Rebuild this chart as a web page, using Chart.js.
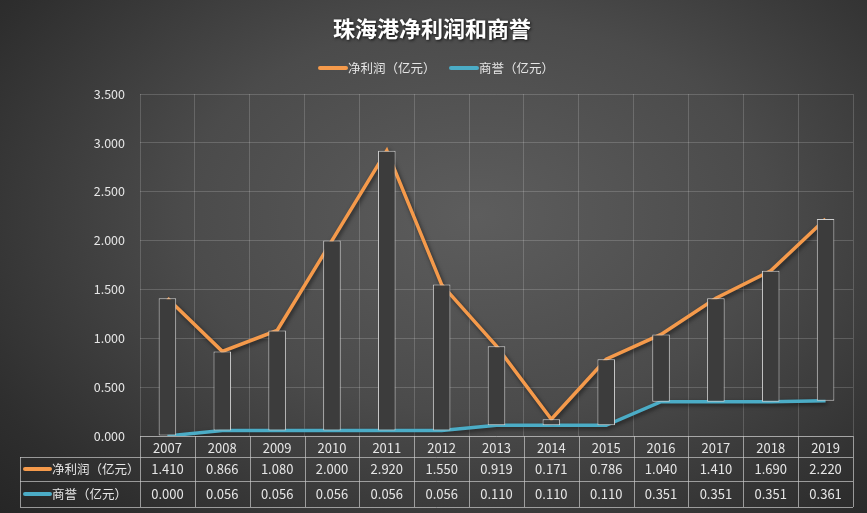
<!DOCTYPE html>
<html>
<head>
<meta charset="utf-8">
<script src="https://cdn.jsdelivr.net/npm/chart.js@4"></script>
<style>
  html, body { margin: 0; padding: 0; }
  body {
    width: 867px; height: 513px; overflow: hidden;
    background: radial-gradient(ellipse 75% 85% at 55% 42%, #5d5d5d 0%, #4b4b4b 45%, #2e2e2e 85%, #262626 100%);
  }
  canvas { display: block; }
</style>
</head>
<body>
<canvas id="myChart" width="867" height="513"></canvas>
<script>
// 数据
const anios = ['2007','2008','2009','2010','2011','2012','2013','2014','2015','2016','2017','2018','2019'];
const utilidad = [1.410, 0.866, 1.080, 2.000, 2.920, 1.550, 0.919, 0.171, 0.786, 1.040, 1.410, 1.690, 2.220];
const fondoComercio = [0.000, 0.056, 0.056, 0.056, 0.056, 0.056, 0.110, 0.110, 0.110, 0.351, 0.351, 0.351, 0.361];
const titulo = '珠海港净利润和商誉';
const nombres = ['净利润（亿元）', '商誉（亿元）'];
const colores = ['#f59a4b', '#4bacc6'];

const fuente = '"Noto Sans CJK SC", "Microsoft YaHei", sans-serif';

// barras flotantes entre las dos series
let barras = [];
for (var i = 0; i < anios.length; i++) {
    barras.push([Math.min(utilidad[i], fondoComercio[i]), Math.max(utilidad[i], fondoComercio[i])]);
}

// sombra de las lineas
const sombraPlugin = {
    id: 'sombra',
    beforeDatasetDraw(chart, args) {
        if (chart.data.datasets[args.index].type !== 'line') return;
        const ctx = chart.ctx;
        ctx.save();
        ctx.shadowColor = 'rgba(0,0,0,0.55)';
        ctx.shadowBlur = 4;
        ctx.shadowOffsetX = 1.5;
        ctx.shadowOffsetY = 2;
    },
    afterDatasetDraw(chart, args) {
        if (chart.data.datasets[args.index].type !== 'line') return;
        chart.ctx.restore();
    }
};

// titulo, leyenda y tabla de datos
const tablaPlugin = {
    id: 'tabla',
    afterDraw(chart) {
        const ctx = chart.ctx;
        const area = chart.chartArea;
        const x = chart.scales.x;

        // titulo
        ctx.save();
        ctx.font = 'bold 22px ' + fuente;
        ctx.textAlign = 'center';
        ctx.textBaseline = 'middle';
        ctx.shadowColor = 'rgba(0,0,0,0.8)';
        ctx.shadowBlur = 3;
        ctx.shadowOffsetX = 1;
        ctx.shadowOffsetY = 1;
        ctx.fillStyle = '#ffffff';
        ctx.fillText(titulo, 432, 29);
        ctx.restore();

        // leyenda
        ctx.save();
        ctx.font = '12.5px ' + fuente;
        ctx.textBaseline = 'middle';
        ctx.lineCap = 'round';
        ctx.lineWidth = 4;
        const leyendaX = [320, 451];
        for (var k = 0; k < 2; k++) {
            ctx.strokeStyle = colores[k];
            ctx.beginPath();
            ctx.moveTo(leyendaX[k], 68);
            ctx.lineTo(leyendaX[k] + 26, 68);
            ctx.stroke();
            ctx.fillStyle = '#e6e6e6';
            ctx.fillText(nombres[k], leyendaX[k] + 28, 68);
        }
        ctx.restore();

        // tabla
        const filas = [area.bottom, 457, 481, 507];
        const izq = 20;
        const paso = (area.right - area.left) / anios.length;
        ctx.save();
        ctx.strokeStyle = 'rgba(200,200,200,0.7)';
        ctx.lineWidth = 1;
        ctx.beginPath();
        ctx.moveTo(area.left, filas[0] + 0.5); ctx.lineTo(area.right, filas[0] + 0.5);
        for (var f = 1; f < filas.length; f++) {
            ctx.moveTo(izq, filas[f] + 0.5); ctx.lineTo(area.right, filas[f] + 0.5);
        }
        ctx.moveTo(izq + 0.5, filas[1]); ctx.lineTo(izq + 0.5, filas[3]);
        for (var c = 0; c <= anios.length; c++) {
            const cx = Math.round(area.left + c * paso) + 0.5;
            ctx.moveTo(cx, filas[0]); ctx.lineTo(cx, filas[3]);
        }
        ctx.stroke();

        const series = [utilidad, fondoComercio];
        ctx.textBaseline = 'middle';
        for (var s = 0; s < 2; s++) {
            const cy = (filas[s + 1] + filas[s + 2]) / 2;
            ctx.lineCap = 'round';
            ctx.lineWidth = 4;
            ctx.strokeStyle = colores[s];
            ctx.beginPath();
            ctx.moveTo(25, cy); ctx.lineTo(50, cy);
            ctx.stroke();
            ctx.font = '12.5px ' + fuente;
            ctx.textAlign = 'left';
            ctx.fillStyle = '#e6e6e6';
            ctx.fillText(nombres[s], 52, cy);
            ctx.font = '13px ' + fuente;
            ctx.textAlign = 'center';
            for (var j = 0; j < anios.length; j++) {
                ctx.fillText(series[s][j].toFixed(3), x.getPixelForValue(j), cy);
            }
        }
        ctx.restore();
    }
};

let ctx = document.getElementById('myChart');
let myChart = new Chart(ctx, {
    data: {
        labels: anios,
        datasets: [{
            type: 'bar',
            label: 'rango',
            data: barras,
            backgroundColor: '#3c3c3c',
            borderColor: '#cfcfcf',
            borderWidth: 1,
            borderSkipped: false,
            barPercentage: 0.32,
            categoryPercentage: 1,
            order: 0
        }, {
            type: 'line',
            label: nombres[0],
            data: utilidad,
            borderColor: colores[0],
            backgroundColor: colores[0],
            borderWidth: 3.5,
            pointRadius: 0,
            tension: 0,
            order: 1
        }, {
            type: 'line',
            label: nombres[1],
            data: fondoComercio,
            borderColor: colores[1],
            backgroundColor: colores[1],
            borderWidth: 3.5,
            pointRadius: 0,
            tension: 0,
            order: 2
        }]
    },
    options: {
        responsive: false,
        animation: false,
        layout: { padding: { left: 0, top: 94, right: 14, bottom: 0 } },
        plugins: {
            legend: { display: false },
            title: { display: false },
            tooltip: { enabled: false }
        },
        scales: {
            x: {
                offset: true,
                grid: { offset: true, color: 'rgba(255,255,255,0.17)', drawTicks: false },
                border: { display: false },
                ticks: { color: '#e6e6e6', font: { family: fuente, size: 13 }, padding: 4, maxRotation: 0 },
                afterFit(scale) { scale.height = 77; }
            },
            y: {
                min: 0,
                max: 3.5,
                grid: { color: 'rgba(255,255,255,0.17)', drawTicks: false },
                border: { display: false },
                ticks: {
                    stepSize: 0.5,
                    padding: 15,
                    color: '#e6e6e6',
                    font: { family: fuente, size: 12.5 },
                    callback: function(v) { return Number(v).toFixed(3); }
                },
                afterFit(scale) { scale.width = 140; }
            }
        }
    },
    plugins: [sombraPlugin, tablaPlugin]
});
</script>
</body>
</html>
